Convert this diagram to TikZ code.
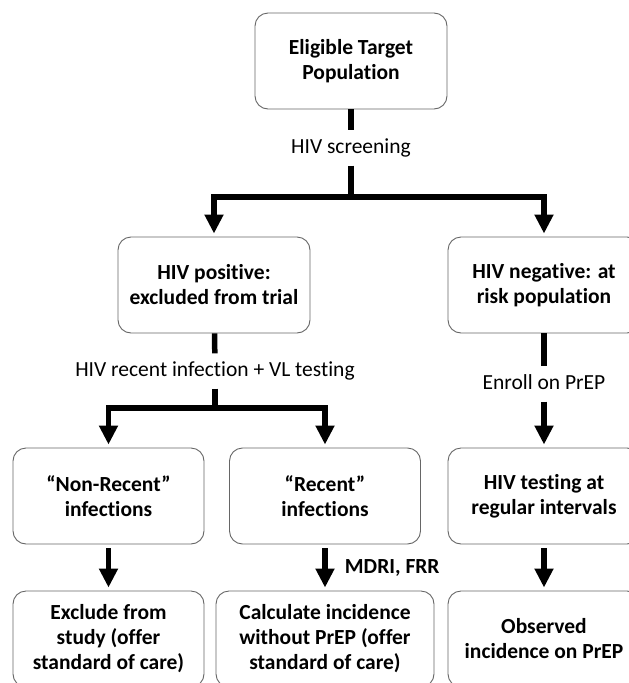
\documentclass[tikz,border=0pt]{standalone}
\usepackage{fontspec}
\setmainfont[Ligatures={TeX,NoCommon}]{Carlito}
\usepackage{tikz}
\usetikzlibrary{arrows.meta}
\usetikzlibrary{positioning}

\begin{document}
\fontsize{21.5}{25}\selectfont
\begin{tikzpicture}
  [
    x=1pt, y=-1pt,
    box/.style={
      draw=black!60,
      line width=0.9pt,
      rounded corners=13pt,
      align=center,
      font=\bfseries,
      minimum width=192pt,
      minimum height=96pt,
      inner sep=0pt
    },
    lbl/.style={
      text height=14pt,
      text depth=4pt,
      inner xsep=2pt,
      inner ysep=8.5pt
    },
    link/.style={
      line width=5.5pt
    },
    arr/.style={
      link,
      -{Triangle[width=18pt,length=19pt]},
      shorten >=3pt
    }
  ]
  \useasboundingbox (0,0) rectangle (629,683);
  \clip (0,0) rectangle (629,683);
  % boxes
  \node [box] (elig) at (351,61) {Eligible Target\\Population};
  \node [box] (pos) at (214,285) {HIV positive:\\excluded from trial};
  \node [box] (neg) at (544,285) {HIV negative: at\\risk population};
  \node [box, minimum width=191pt] (nonrec) at (108.5,496) {“Non-Recent”\\infections};
  \node [box, minimum width=191pt] (rec) at (325,496) {“Recent”\\infections};
  \node [box] (test) at (544,496) {HIV testing at\\regular intervals};
  \node [box, minimum width=191pt] (excl) at (108.5,639) {Exclude from\\study (offer\\standard of care)};
  \node [box, minimum width=218pt] (calc) at (325,639) {Calculate incidence\\without PrEP (offer\\standard of care)};
  \node [box] (obs) at (544,639) {Observed\\incidence on PrEP};
  % labels
  \node [lbl] (screen) at (351,148) {HIV screening};
  \node [lbl] (rvl) at (215,371) {HIV recent infection + VL testing};
  \node [lbl] (enroll) at (544,384) {Enroll on PrEP};
  \coordinate (split1) at (351,197);
  \coordinate (split2) at (215,408);
  % connectors
  \draw [link] (elig) -- (screen);
  \draw [arr] (screen) -- (split1) -| (pos);
  \draw [arr] (split1) -| (neg);
  \draw [link] (pos) -- (rvl);
  \draw [arr] (rvl) -- (split2) -| (nonrec);
  \draw [arr] (split2) -| (rec);
  \draw [link] (neg) -- (enroll);
  \draw [arr] (enroll) -- (test);
  \draw [arr, shorten <=4pt] (nonrec) -- (excl);
  \draw [arr, shorten <=4pt] (rec) -- node [right=10pt, font=\bfseries] {MDRI, FRR} (calc);
  \draw [arr, shorten <=4pt] (test) -- (obs);
\end{tikzpicture}
\end{document}
